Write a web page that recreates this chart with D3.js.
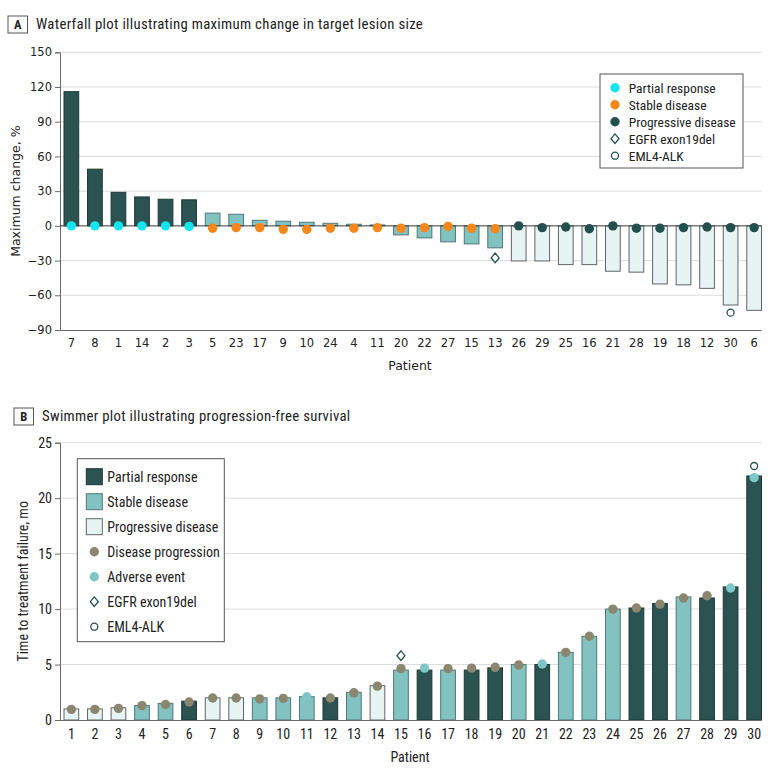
<!DOCTYPE html>
<html>
<head>
<meta charset="utf-8">
<script src="https://cdn.jsdelivr.net/npm/d3@7"></script>
<style>
  html, body { margin: 0; padding: 0; background: #fff; }
  svg { display: block; }
  .narrow { font-family: "Liberation Sans Narrow", "Roboto Condensed", "Roboto", sans-serif; }
  .dv { font-family: "DejaVu Sans", sans-serif; }
</style>
</head>
<body>
<svg id="chart" width="780" height="775"></svg>
<script>
// ---------------- DATA ----------------
// Panel A: waterfall
const waterfallPatients = ["7","8","1","14","2","3","5","23","17","9","10","24","4","11","20","22","27","15","13","26","29","25","16","21","28","19","18","12","30","6"];
const waterfallChange = [116,49,29,25,23,22.5,11,10,4.8,4,3.1,2.2,1.4,0.8,-7.8,-10.4,-13.8,-15.6,-19,-30.3,-30.3,-33.5,-33.5,-39.2,-40,-50.2,-51,-54,-68.4,-73];
const waterfallResponse = ["PR","PR","PR","PR","PR","PR","SD","SD","SD","SD","SD","SD","SD","SD","SD","SD","SD","SD","SD","PD","PD","PD","PD","PD","PD","PD","PD","PD","PD","PD"];
const waterfallDotValue = [0,0,0,0,0,-0.5,-2,-1.5,-1.5,-3,-3,-2,-2,-1.5,-2,-1.5,-0.5,-2,-2.5,0,-1.5,-1,-2.5,0,-2,-2,-1.5,-1,-1.5,-1.5];
const waterfallEGFR = [{patient:"13", value:-27.7}];
const waterfallALK = [{patient:"30", value:-75}];
const waterfallTicks = [-90,-60,-30,0,30,60,90,120,150];
const waterfallLegend = ["Partial response","Stable disease","Progressive disease","EGFR exon19del","EML4-ALK"];

// Panel B: swimmer
const swimPatients = d3.range(1,31).map(String);
const swimMonths = [1.0,1.0,1.1,1.3,1.5,1.7,2.0,2.0,2.0,2.0,2.1,2.0,2.5,3.1,4.5,4.5,4.5,4.5,4.7,5.0,5.0,6.1,7.55,10.0,10.1,10.5,11.1,11.0,12.0,22.0];
const swimResponse = ["PD","PD","PD","SD","SD","PR","PD","PD","SD","SD","SD","PR","SD","PD","SD","PR","SD","PR","PR","SD","PR","SD","SD","SD","PR","PR","SD","PR","PR","PR"];
const swimEvent = ["DP","DP","DP","DP","DP","DP","DP","DP","DP","DP","AE","DP","DP","DP","DP","AE","DP","DP","DP","DP","AE","DP","DP","DP","DP","DP","DP","DP","AE","AE"];
const swimEventValue = [0.96,0.96,1.05,1.3,1.4,1.62,1.98,1.98,1.9,1.95,2.1,1.98,2.45,3.05,4.63,4.68,4.63,4.68,4.75,4.96,5.05,6.1,7.55,10.0,10.1,10.45,11.0,11.2,11.9,21.85];
const swimEGFR = [{patient:"15", value:5.8}];
const swimALK = [{patient:"30", value:22.9}];
const swimTicks = [0,5,10,15,20,25];
const swimLegend = ["Partial response","Stable disease","Progressive disease","Disease progression","Adverse event","EGFR exon19del","EML4-ALK"];

// ---------------- STYLE ----------------
const C = {
  PRbar: "#2b5352", PRstroke: "#1d3837",
  SDbar: "#82c2c0", SDstroke: "#4f7877",
  PDbar: "#e8f4f4", PDstroke: "#5e6464",
  cyan: "#14e4ee", orange: "#f7861b", darkDot: "#23504e",
  DP: "#8b8670", AE: "#7fc6c6",
  grid: "#dcdcdc", axis: "#6a6a6a", text: "#222"
};
const barFill = r => r === "PR" ? C.PRbar : r === "SD" ? C.SDbar : C.PDbar;
const barStroke = r => r === "PR" ? C.PRstroke : r === "SD" ? C.SDstroke : C.PDstroke;
const respDot = r => r === "PR" ? C.cyan : r === "SD" ? C.orange : C.darkDot;

const svg = d3.select("#chart");
const diamondType = { draw(ctx) { ctx.moveTo(0, -4.8); ctx.lineTo(4, 0); ctx.lineTo(0, 4.8); ctx.lineTo(-4, 0); ctx.closePath(); } };
const diamond = d3.symbol().type(diamondType);
const ringR = 3.5;

function panelTitle(x, y, letter, text) {
  const g = svg.append("g");
  g.append("rect").attr("x", x).attr("y", y).attr("width", 19.5).attr("height", 17)
    .attr("fill", "#fff").attr("stroke", "#555").attr("stroke-width", 1);
  g.append("text").attr("class", "narrow").attr("x", x + 9.75).attr("y", y + 13)
    .attr("text-anchor", "middle").attr("font-size", 12.5).attr("font-weight", "bold")
    .attr("fill", C.text).text(letter);
  g.append("text").attr("class", "narrow").attr("x", x + 28).attr("y", y + 13)
    .attr("font-size", 14.8).attr("letter-spacing", 0.3).attr("fill", C.text).text(text);
}

// ---------------- PANEL A ----------------
(function() {
  const left = 60, right = 761.5, top = 52.3, bottom = 330;
  const x = d3.scaleBand().domain(waterfallPatients).range([64, right]).paddingInner(0.375).paddingOuter(0);
  const y = d3.scaleLinear().domain([-90, 150]).range([bottom, top]);
  const g = svg.append("g");

  panelTitle(8, 16, "A", "Waterfall plot illustrating maximum change in target lesion size");

  g.append("g").selectAll("line").data(waterfallTicks.filter(t => t !== -90 && t !== 0)).join("line")
    .attr("x1", left).attr("x2", right).attr("y1", d => y(d)).attr("y2", d => y(d))
    .attr("stroke", C.grid).attr("stroke-width", 1);

  const yAxis = g.append("g").attr("transform", `translate(${left},0)`)
    .call(d3.axisLeft(y).tickValues(waterfallTicks).tickSize(5).tickPadding(3));
  yAxis.select(".domain").attr("stroke", C.axis);
  yAxis.selectAll(".tick line").attr("stroke", C.axis);
  yAxis.selectAll("text").attr("class", "dv").attr("font-size", 11.5).attr("fill", C.text);

  const idx = waterfallPatients.map((p, i) => i);
  g.append("g").selectAll("rect").data(idx).join("rect")
    .attr("x", i => x(waterfallPatients[i]))
    .attr("width", x.bandwidth())
    .attr("y", i => y(Math.max(0, waterfallChange[i])))
    .attr("height", i => Math.abs(y(waterfallChange[i]) - y(0)))
    .attr("fill", i => barFill(waterfallResponse[i]))
    .attr("stroke", i => barStroke(waterfallResponse[i]))
    .attr("stroke-width", 1);

  g.append("line").attr("x1", left).attr("x2", right).attr("y1", y(0)).attr("y2", y(0))
    .attr("stroke", "#3a3a3a").attr("stroke-width", 1);

  const xAxis = g.append("g").attr("transform", `translate(0,${bottom})`)
    .call(d3.axisBottom(x).tickSize(0).tickPadding(9));
  xAxis.select(".domain").attr("d", `M${left},0.5H${right}`).attr("stroke", C.axis);
  xAxis.selectAll("text").attr("class", "dv").attr("font-size", 11.5).attr("fill", C.text);

  g.append("g").selectAll("circle").data(idx).join("circle")
    .attr("cx", i => x(waterfallPatients[i]) + x.bandwidth() / 2)
    .attr("cy", i => y(waterfallDotValue[i]))
    .attr("r", 4.7)
    .attr("fill", i => respDot(waterfallResponse[i]));

  g.append("g").selectAll("path").data(waterfallEGFR).join("path")
    .attr("d", diamond)
    .attr("transform", d => `translate(${x(d.patient) + x.bandwidth() / 2},${y(d.value)})`)
    .attr("fill", "#fff").attr("stroke", C.darkDot).attr("stroke-width", 1.3);
  g.append("g").selectAll("circle").data(waterfallALK).join("circle")
    .attr("cx", d => x(d.patient) + x.bandwidth() / 2).attr("cy", d => y(d.value))
    .attr("r", ringR).attr("fill", "#fff").attr("stroke", C.darkDot).attr("stroke-width", 1.3);

  g.append("text").attr("class", "dv").attr("font-size", 12.5).attr("fill", C.text)
    .attr("text-anchor", "middle").attr("transform", `translate(20,${(top + bottom) / 2}) rotate(-90)`)
    .text("Maximum change, %");
  g.append("text").attr("class", "dv").attr("font-size", 12.5).attr("fill", C.text)
    .attr("text-anchor", "middle").attr("x", 410).attr("y", 370).text("Patient");

  const lg = g.append("g");
  lg.append("rect").attr("x", 600).attr("y", 74).attr("width", 143).attr("height", 94)
    .attr("fill", "#fff").attr("stroke", "#555").attr("stroke-width", 1);
  const ly = i => 87.7 + 17 * i;
  const legendSym = [
    s => s.append("circle").attr("r", 4.7).attr("fill", C.cyan),
    s => s.append("circle").attr("r", 4.7).attr("fill", C.orange),
    s => s.append("circle").attr("r", 4.7).attr("fill", C.darkDot),
    s => s.append("path").attr("d", diamond).attr("fill", "#fff").attr("stroke", C.darkDot).attr("stroke-width", 1.3),
    s => s.append("circle").attr("r", ringR).attr("fill", "#fff").attr("stroke", C.darkDot).attr("stroke-width", 1.3)
  ];
  waterfallLegend.forEach((t, i) => {
    const s = lg.append("g").attr("transform", `translate(615,${ly(i)})`);
    legendSym[i](s);
    lg.append("text").attr("class", "narrow").attr("x", 628.7).attr("y", ly(i) + 4.8)
      .attr("font-size", 13.5).attr("fill", C.text).text(t);
  });
})();

// ---------------- PANEL B ----------------
(function() {
  const left = 60, right = 761.5, top = 442.7, bottom = 720;
  const x = d3.scaleBand().domain(swimPatients).range([64, right]).paddingInner(0.375).paddingOuter(0);
  const y = d3.scaleLinear().domain([0, 25]).range([bottom, top]);
  const g = svg.append("g");

  panelTitle(14, 408, "B", "Swimmer plot illustrating progression-free survival");

  g.append("g").selectAll("line").data(swimTicks.filter(t => t !== 0)).join("line")
    .attr("x1", left).attr("x2", right).attr("y1", d => y(d)).attr("y2", d => y(d))
    .attr("stroke", C.grid).attr("stroke-width", 1);

  const yAxis = g.append("g").attr("transform", `translate(${left},0)`)
    .call(d3.axisLeft(y).tickValues(swimTicks).tickSize(5).tickPadding(3));
  yAxis.select(".domain").attr("stroke", C.axis);
  yAxis.selectAll(".tick line").attr("stroke", C.axis);
  yAxis.selectAll("text").attr("class", "narrow").attr("font-size", 14).attr("fill", C.text);

  const idx = swimPatients.map((p, i) => i);
  g.append("g").selectAll("rect").data(idx).join("rect")
    .attr("x", i => x(swimPatients[i]))
    .attr("width", x.bandwidth())
    .attr("y", i => y(swimMonths[i]))
    .attr("height", i => y(0) - y(swimMonths[i]))
    .attr("fill", i => barFill(swimResponse[i]))
    .attr("stroke", i => barStroke(swimResponse[i]))
    .attr("stroke-width", 1);

  const xAxis = g.append("g").attr("transform", `translate(0,${bottom})`)
    .call(d3.axisBottom(x).tickSize(0).tickPadding(9));
  xAxis.select(".domain").attr("d", `M${left},0.5H${right}`).attr("stroke", C.axis);
  xAxis.selectAll("text").attr("class", "narrow").attr("font-size", 14).attr("fill", C.text);

  g.append("g").selectAll("circle").data(idx).join("circle")
    .attr("cx", i => x(swimPatients[i]) + x.bandwidth() / 2)
    .attr("cy", i => y(swimEventValue[i]))
    .attr("r", 4.7)
    .attr("fill", i => swimEvent[i] === "AE" ? C.AE : C.DP);

  g.append("g").selectAll("path").data(swimEGFR).join("path")
    .attr("d", diamond)
    .attr("transform", d => `translate(${x(d.patient) + x.bandwidth() / 2},${y(d.value)})`)
    .attr("fill", "#fff").attr("stroke", C.darkDot).attr("stroke-width", 1.3);
  g.append("g").selectAll("circle").data(swimALK).join("circle")
    .attr("cx", d => x(d.patient) + x.bandwidth() / 2).attr("cy", d => y(d.value))
    .attr("r", ringR).attr("fill", "#fff").attr("stroke", C.darkDot).attr("stroke-width", 1.3);

  g.append("text").attr("class", "narrow").attr("font-size", 14).attr("fill", C.text)
    .attr("text-anchor", "middle").attr("transform", `translate(28,${(top + bottom) / 2}) rotate(-90)`)
    .text("Time to treatment failure, mo");
  g.append("text").attr("class", "narrow").attr("font-size", 14).attr("fill", C.text)
    .attr("text-anchor", "middle").attr("x", 410).attr("y", 762).text("Patient");

  const lg = g.append("g");
  lg.append("rect").attr("x", 77.3).attr("y", 458.7).attr("width", 147).attr("height", 183)
    .attr("fill", "#fff").attr("stroke", "#555").attr("stroke-width", 1);
  const ly = i => 476.7 + 25 * i;
  const sw = (s, r) => s.append("rect").attr("x", -8).attr("y", -8).attr("width", 16).attr("height", 16)
    .attr("fill", barFill(r)).attr("stroke", barStroke(r)).attr("stroke-width", 1);
  const legendSym = [
    s => sw(s, "PR"), s => sw(s, "SD"), s => sw(s, "PD"),
    s => s.append("circle").attr("r", 4.7).attr("fill", C.DP),
    s => s.append("circle").attr("r", 4.7).attr("fill", C.AE),
    s => s.append("path").attr("d", diamond).attr("fill", "#fff").attr("stroke", C.darkDot).attr("stroke-width", 1.3),
    s => s.append("circle").attr("r", ringR).attr("fill", "#fff").attr("stroke", C.darkDot).attr("stroke-width", 1.3)
  ];
  swimLegend.forEach((t, i) => {
    const s = lg.append("g").attr("transform", `translate(94.3,${ly(i)})`);
    legendSym[i](s);
    lg.append("text").attr("class", "narrow").attr("x", 107.3).attr("y", ly(i) + 5)
      .attr("font-size", 14).attr("fill", C.text).text(t);
  });
})();
</script>
</body>
</html>
